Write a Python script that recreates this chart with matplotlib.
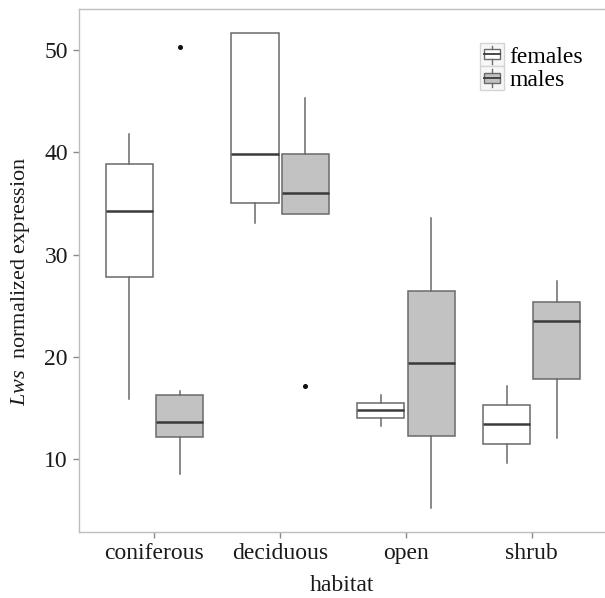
import matplotlib
matplotlib.use("Agg")
import matplotlib.pyplot as plt
from matplotlib.legend_handler import HandlerBase
from matplotlib.patches import Rectangle
from matplotlib.lines import Line2D

plt.rcParams["font.family"] = ["Liberation Serif", "DejaVu Serif"]
plt.rcParams["mathtext.fontset"] = "custom"
plt.rcParams["mathtext.it"] = "Liberation Serif:italic"
plt.rcParams["mathtext.rm"] = "Liberation Serif"

# ---------------------------------------------------------------------------
# data
# ---------------------------------------------------------------------------
habitats = ["coniferous", "deciduous", "open", "shrub"]

female_whislo = [15.9, 33.1, 13.25, 9.6]
female_q1 = [27.8, 35.0, 14.0, 11.5]
female_med = [34.3, 39.8, 14.8, 13.4]
female_q3 = [38.9, 51.7, 15.5, 15.3]
female_whishi = [41.8, 51.7, 16.3, 17.2]
female_fliers = [[], [], [], []]

male_whislo = [8.55, 34.0, 5.2, 12.1]
male_q1 = [12.2, 34.0, 12.3, 17.8]
male_med = [13.6, 36.05, 19.4, 23.55]
male_q3 = [16.25, 39.8, 26.45, 25.4]
male_whishi = [16.7, 45.3, 33.55, 27.4]
male_fliers = [[50.3], [17.15], [], []]

group_labels = ["females", "males"]
y_ticks = [10, 20, 30, 40, 50]

# styles
EDGE = "#6a6a6a"
MEDIAN = "#3a3a3a"
FILLS = ["#ffffff", "#c2c2c2"]
SPINE = "#bdbdbd"
DODGE = 0.2
BOX_W = 0.375


def _stats(lo, q1, med, q3, hi, fl):
    return [dict(whislo=a, q1=b, med=c, q3=d, whishi=e, fliers=f)
            for a, b, c, d, e, f in zip(lo, q1, med, q3, hi, fl)]


class BoxKeyHandler(HandlerBase):
    """ggplot-like legend key: small box with median and whisker stubs."""

    def __init__(self, face):
        super().__init__()
        self.face = face

    def create_artists(self, legend, orig_handle, xdescent, ydescent,
                       width, height, fontsize, trans):
        h = height * 1.12
        x0, y0 = -xdescent, -ydescent + height / 2 - h / 2
        key = Rectangle((x0, y0), width, h, facecolor="#f7f7f7",
                        edgecolor="#d4d4d4", lw=1.0, transform=trans)
        bx0, bx1 = x0 + width * 0.15, x0 + width * 0.83
        by0, by1 = y0 + h * 0.3, y0 + h * 0.72
        box = Rectangle((bx0, by0), bx1 - bx0, by1 - by0, facecolor=self.face,
                        edgecolor=EDGE, lw=1.0, transform=trans)
        xm = (bx0 + bx1) / 2
        med = Line2D([bx0, bx1], [(by0 + by1) / 2] * 2, color=MEDIAN, lw=1.3,
                     transform=trans)
        w1 = Line2D([xm, xm], [y0 + h * 0.12, by0], color=EDGE, lw=1.0,
                    transform=trans)
        w2 = Line2D([xm, xm], [by1, y0 + h * 0.88], color=EDGE, lw=1.0,
                    transform=trans)
        return [key, box, med, w1, w2]


fig = plt.figure(figsize=(6.05, 5.98), dpi=100)
ax = fig.add_axes([79 / 605, 1 - 531.7 / 598, 1 - 79 / 605, (531.7 - 9) / 598])

groups = [
    _stats(female_whislo, female_q1, female_med, female_q3, female_whishi, female_fliers),
    _stats(male_whislo, male_q1, male_med, male_q3, male_whishi, male_fliers),
]
for k, stats in enumerate(groups):
    pos = [i + 1 + (k * 2 - 1) * DODGE for i in range(len(habitats))]
    ax.bxp(stats, positions=pos, widths=BOX_W, patch_artist=True,
           showcaps=False, manage_ticks=False,
           boxprops=dict(facecolor=FILLS[k], edgecolor=EDGE, lw=1.1),
           whiskerprops=dict(color=EDGE, lw=1.1),
           medianprops=dict(color=MEDIAN, lw=1.8),
           flierprops=dict(marker="o", markersize=2.6, markerfacecolor="#111111",
                           markeredgecolor="#111111"))

ax.set_xlim(0.4, 4 + (605 - 531.7) / 125.8)
ax.set_ylim(2.92, 54.0)
ax.set_xticks(range(1, len(habitats) + 1))
ax.set_xticklabels(habitats)
ax.set_yticks(y_ticks)

for side in ["left", "bottom", "top"]:
    ax.spines[side].set_color(SPINE)
    ax.spines[side].set_linewidth(1.0)
ax.spines["right"].set_visible(False)
ax.tick_params(axis="both", colors="#8a8a8a", length=4, width=1.0,
               labelsize=17, labelcolor="#1a1a1a", pad=4)

ax.set_xlabel("habitat", fontsize=17, color="#1a1a1a", labelpad=8)
ax.set_ylabel(r"$\mathit{Lws}$  normalized expression", fontsize=16,
              color="#1a1a1a")
ax.yaxis.set_label_coords(-0.09, 0.48)

handles = [Rectangle((0, 0), 1, 1), Rectangle((0, 0), 1, 1)]
leg = fig.legend(handles, group_labels, loc="upper left",
                 bbox_to_anchor=(480 / 605, 1 - 44 / 598),
                 frameon=False, fontsize=17, handlelength=1.0,
                 handleheight=1.0, labelspacing=0.0, handletextpad=0.25,
                 borderpad=0, borderaxespad=0,
                 handler_map={handles[0]: BoxKeyHandler(FILLS[0]),
                              handles[1]: BoxKeyHandler(FILLS[1])})

fig.savefig("out.png", dpi=100)
